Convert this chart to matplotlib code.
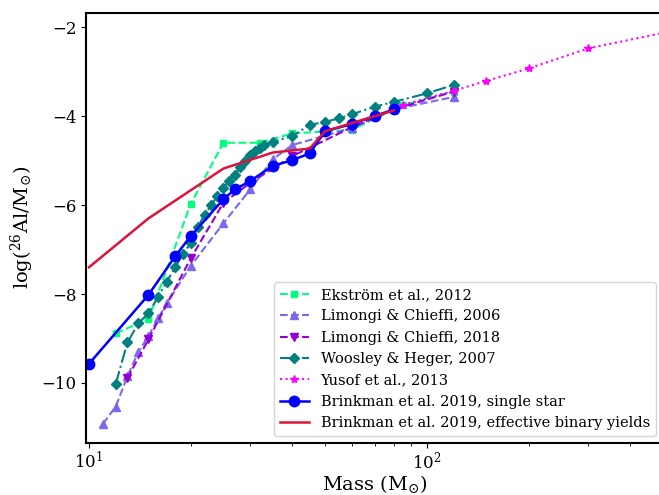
import matplotlib
matplotlib.use('Agg')
import matplotlib.pyplot as plt

plt.rcParams['font.family'] = 'DejaVu Serif'
plt.rcParams['mathtext.fontset'] = 'dejavuserif'

# 26Al yields, log10(M_Al / Msun) vs initial mass (Msun)
ekstrom_mass = [12, 15, 20, 25, 32, 40, 60, 85, 120]
ekstrom_al = [-8.88, -8.57, -5.98, -4.60, -4.60, -4.39, -4.31, -3.75, -3.45]

lc06_mass = [11, 12, 13, 14, 15, 16, 17, 20, 25, 30, 35, 40, 60, 80, 120]
lc06_al = [-10.92, -10.53, -9.85, -9.30, -8.95, -8.55, -8.21, -7.37, -6.41,
           -5.65, -4.97, -4.65, -4.27, -3.85, -3.57]

lc18_mass = [13, 15, 20, 25, 30, 40, 60, 80, 120]
lc18_al = [-9.89, -9.02, -7.20, -5.95, -5.50, -4.90, -4.25, -3.85, -3.45]

wh07_mass = [12, 13, 14, 15, 16, 17, 18, 19, 20, 21, 22, 23, 24, 25, 26, 27,
             28, 29, 30, 31, 32, 33, 35, 40, 45, 50, 55, 60, 70, 80, 100, 120]
wh07_al = [-10.02, -9.09, -8.66, -8.43, -8.07, -7.72, -7.40, -7.09, -6.86,
           -6.49, -6.22, -6.00, -5.80, -5.62, -5.45, -5.32, -5.15, -5.00,
           -4.88, -4.78, -4.71, -4.65, -4.58, -4.45, -4.20, -4.13, -4.05,
           -3.96, -3.79, -3.68, -3.49, -3.30]

yusof_mass = [85, 120, 150, 200, 300, 500]
yusof_al = [-3.75, -3.43, -3.21, -2.93, -2.48, -2.13]

single_mass = [10, 15, 18, 20, 25, 27, 30, 35, 40, 45, 50, 60, 70, 80]
single_al = [-9.57, -8.02, -7.15, -6.70, -5.87, -5.65, -5.46, -5.12, -4.99,
             -4.84, -4.34, -4.18, -4.00, -3.85]

binary_mass = [10, 15, 25, 35, 45, 50, 80]
binary_al = [-7.40, -6.30, -5.18, -4.82, -4.73, -4.34, -3.87]

fig = plt.figure(figsize=(6.59, 4.95), dpi=100)
ax = fig.add_axes([0.1305, 0.105, 0.8756, 0.869])

ax.plot(ekstrom_mass, ekstrom_al, '--s', color='springgreen', ms=5,
        lw=1.5, label='Ekström et al., 2012')
ax.plot(lc06_mass, lc06_al, '--^', color='mediumslateblue', ms=6,
        lw=1.5, label='Limongi & Chieffi, 2006')
ax.plot(lc18_mass, lc18_al, '--v', color='darkviolet', ms=6,
        lw=1.5, label='Limongi & Chieffi, 2018')
ax.plot(wh07_mass, wh07_al, '-.D', color='teal', ms=5,
        lw=1.5, label='Woosley & Heger, 2007')
ax.plot(yusof_mass, yusof_al, ':*', color='magenta', ms=6,
        lw=1.5, label='Yusof et al., 2013')
ax.plot(single_mass, single_al, '-o', color='blue', ms=7.5,
        lw=1.8, label='Brinkman et al. 2019, single star')
ax.plot(binary_mass, binary_al, '-', color='crimson',
        lw=1.8, label='Brinkman et al. 2019, effective binary yields')

ax.set_xscale('log')
ax.set_xlim(9.8, 500)
ax.set_ylim(-11.35, -1.68)
ax.set_yticks([-10, -8, -6, -4, -2])
ax.tick_params(axis='both', labelsize=12)
ax.tick_params(axis='x', pad=2)
for s in ax.spines.values():
    s.set_linewidth(1.5)

ax.set_xlabel(r'Mass (M$_{\odot}$)', fontsize=14, labelpad=0)
ax.set_ylabel(r'log($^{26}$Al/M$_{\odot}$)', fontsize=14)
ax.legend(loc='lower right', fontsize=10.5)

fig.savefig('out.png', dpi=100)
